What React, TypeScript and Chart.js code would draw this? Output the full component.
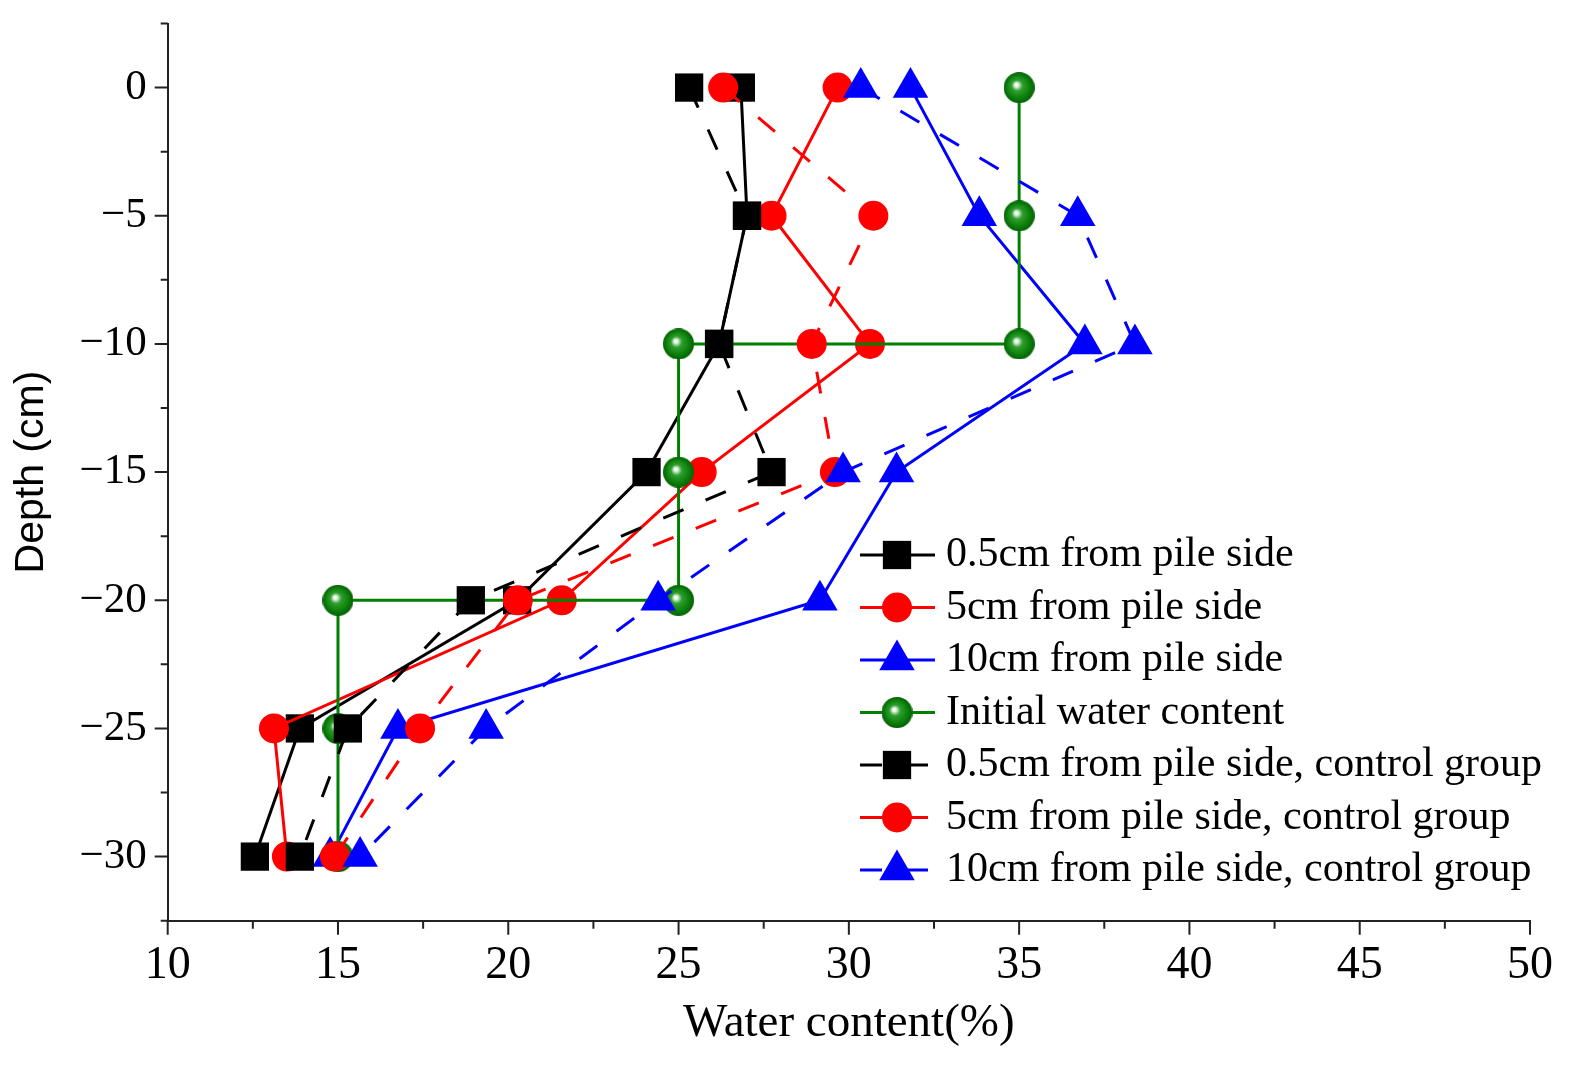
import React, { useEffect, useRef } from "react";
import { Chart, registerables } from "chart.js";

Chart.register(...registerables);

// ---- data ----
const depths = [0, -5, -10, -15, -20, -25, -30];
const pile05 = [26.83, 27.01, 26.19, 24.06, 20.26, 13.88, 12.56];
const pile5 = [29.67, 27.73, 30.62, 25.68, 21.57, 13.12, 13.5];
const pile10 = [31.81, 33.83, 36.93, 31.4, 29.15, 16.76, 14.77];
const initialWater = [35, 35, 35, 25, 25, 25, 15, 15, 15];
const initialDepth = [0, -5, -10, -10, -15, -20, -20, -25, -30];
const pile05Ctrl = [25.31, 27.01, 26.19, 27.73, 18.9, 15.29, 13.88];
const pile5Ctrl = [26.31, 30.72, 28.91, 29.59, 20.28, 17.41, 14.91];
const pile10Ctrl = [30.35, 36.72, 38.4, 29.83, 24.4, 19.35, 15.65];

const seriesLabels = [
  "0.5cm from pile side",
  "5cm from pile side",
  "10cm from pile side",
  "Initial water content",
  "0.5cm from pile side, control group",
  "5cm from pile side, control group",
  "10cm from pile side, control group",
];

const xTickValues = [10, 15, 20, 25, 30, 35, 40, 45, 50];
const xTickLabels = ["10", "15", "20", "25", "30", "35", "40", "45", "50"];
const xMinorValues = [12.5, 17.5, 22.5, 27.5, 32.5, 37.5, 42.5, 47.5];
const yTickValues = [-30, -25, -20, -15, -10, -5, 0];
const yTickLabels = ["\u221230", "\u221225", "\u221220", "\u221215", "\u221210", "\u22125", "0"];
const yMinorValues = [-32.5, -27.5, -22.5, -17.5, -12.5, -7.5, -2.5, 2.5];

const SERIF = '"Liberation Serif", "Times New Roman", serif';
const SANS = '"Liberation Sans", Arial, sans-serif';
const AXIS = "#222";
const DASH = [22, 24];

function makeSphere(d: number): HTMLCanvasElement {
  const c = document.createElement("canvas");
  c.width = d;
  c.height = d;
  const ctx = c.getContext("2d")!;
  const g = ctx.createRadialGradient(d * 0.4, d * 0.4, 0, d * 0.5, d * 0.5, d * 0.5);
  g.addColorStop(0, "#ffffff");
  g.addColorStop(0.12, "#e8f6e8");
  g.addColorStop(0.35, "#2f9f2f");
  g.addColorStop(0.75, "#0b7f0b");
  g.addColorStop(1, "#056005");
  ctx.fillStyle = g;
  ctx.beginPath();
  ctx.arc(d / 2, d / 2, d / 2, 0, Math.PI * 2);
  ctx.fill();
  return c;
}

function zip(xs: number[], ys: number[]) {
  return xs.map((x, i) => ({ x, y: ys[i] }));
}

type Marker = "rect" | "circle" | "triangle" | "sphere";

function drawMarker(ctx: CanvasRenderingContext2D, m: Marker, x: number, y: number, color: string, sphere: HTMLCanvasElement) {
  ctx.save();
  ctx.fillStyle = color;
  ctx.beginPath();
  if (m === "rect") {
    const s = Math.SQRT1_2 * 20;
    ctx.rect(x - s, y - s, 2 * s, 2 * s);
    ctx.fill();
  } else if (m === "circle") {
    ctx.arc(x, y, 15, 0, Math.PI * 2);
    ctx.fill();
  } else if (m === "triangle") {
    const r = 20.5;
    let a = 0;
    ctx.moveTo(x + Math.sin(a) * r, y - Math.cos(a) * r);
    a += (2 * Math.PI) / 3;
    ctx.lineTo(x + Math.sin(a) * r, y - Math.cos(a) * r);
    a += (2 * Math.PI) / 3;
    ctx.lineTo(x + Math.sin(a) * r, y - Math.cos(a) * r);
    ctx.closePath();
    ctx.fill();
  } else {
    ctx.drawImage(sphere, x - sphere.width / 2, y - sphere.height / 2);
  }
  ctx.restore();
}

export default function App() {
  const ref = useRef<HTMLCanvasElement | null>(null);

  useEffect(() => {
    if (!ref.current) return;
    const sphere = makeSphere(31);

    const styles: { color: string; marker: Marker; dashed: boolean }[] = [
      { color: "#000000", marker: "rect", dashed: false },
      { color: "#ff0000", marker: "circle", dashed: false },
      { color: "#0000ff", marker: "triangle", dashed: false },
      { color: "#008000", marker: "sphere", dashed: false },
      { color: "#000000", marker: "rect", dashed: true },
      { color: "#ff0000", marker: "circle", dashed: true },
      { color: "#0000ff", marker: "triangle", dashed: true },
    ];
    const seriesData = [
      zip(pile05, depths),
      zip(pile5, depths),
      zip(pile10, depths),
      zip(initialWater, initialDepth),
      zip(pile05Ctrl, depths),
      zip(pile5Ctrl, depths),
      zip(pile10Ctrl, depths),
    ];

    const datasets = seriesData.map((data, i) => {
      const st = styles[i];
      const ps: any = st.marker === "sphere" ? sphere : st.marker;
      const radius = st.marker === "rect" ? 20 : st.marker === "triangle" ? 20.5 : 15;
      return {
        label: seriesLabels[i],
        data,
        showLine: true,
        borderColor: st.color,
        borderWidth: 3,
        borderDash: st.dashed ? DASH : [],
        backgroundColor: st.color,
        pointStyle: ps,
        pointRadius: radius,
        pointHoverRadius: radius,
        pointBackgroundColor: st.color,
        pointBorderColor: st.color,
        pointBorderWidth: 0,
        fill: false,
        tension: 0,
        clip: false as any,
        order: 6 - i,
      };
    });

    const tickPlugin = {
      id: "minorTicks",
      afterDraw(chart: any) {
        const { ctx, chartArea } = chart;
        const xs = chart.scales.x;
        const ys = chart.scales.y;
        ctx.save();
        ctx.strokeStyle = AXIS;
        ctx.lineWidth = 2;
        ctx.beginPath();
        yTickValues.forEach((v) => {
          const p = ys.getPixelForValue(v);
          ctx.moveTo(chartArea.left - 13, p);
          ctx.lineTo(chartArea.left, p);
        });
        yMinorValues.forEach((v) => {
          const p = ys.getPixelForValue(v);
          ctx.moveTo(chartArea.left - 7, p);
          ctx.lineTo(chartArea.left, p);
        });
        xTickValues.forEach((v) => {
          const p = xs.getPixelForValue(v);
          ctx.moveTo(p, chartArea.bottom);
          ctx.lineTo(p, chartArea.bottom + 14);
        });
        xMinorValues.forEach((v) => {
          const p = xs.getPixelForValue(v);
          ctx.moveTo(p, chartArea.bottom);
          ctx.lineTo(p, chartArea.bottom + 8);
        });
        ctx.stroke();
        ctx.restore();
      },
    };

    const legendPlugin = {
      id: "customLegend",
      afterDraw(chart: any) {
        const { ctx } = chart;
        const x0 = 860;
        const x1 = 935;
        const xm = 897;
        const top = 555;
        const step = 52.5;
        ctx.save();
        seriesLabels.forEach((lab, i) => {
          const st = styles[i];
          const y = top + i * step;
          ctx.save();
          ctx.strokeStyle = st.color;
          ctx.lineWidth = 3;
          ctx.setLineDash(st.dashed ? DASH : []);
          ctx.beginPath();
          ctx.moveTo(x0, y);
          ctx.lineTo(x1, y);
          ctx.stroke();
          ctx.restore();
          drawMarker(ctx, st.marker, xm, y, st.color, sphere);
          ctx.fillStyle = "#000";
          ctx.font = `42px ${SERIF}`;
          ctx.textAlign = "left";
          ctx.textBaseline = "middle";
          ctx.fillText(lab, 946, y);
        });
        ctx.restore();
      },
    };

    const chart = new Chart(ref.current, {
      type: "scatter",
      data: { datasets: datasets as any },
      options: {
        responsive: false,
        animation: false,
        events: [],
        layout: { padding: { left: 0, right: 47, top: 23.5, bottom: 0 } },
        plugins: {
          legend: { display: false },
          tooltip: { enabled: false },
        },
        scales: {
          x: {
            type: "linear",
            min: 10,
            max: 50,
            afterBuildTicks: (s: any) => {
              s.ticks = xTickValues.map((v) => ({ value: v }));
            },
            afterFit: (s: any) => {
              s.height = 147.3;
              s.paddingLeft = 0;
              s.paddingRight = 0;
            },
            ticks: {
              autoSkip: false,
              maxRotation: 0,
              padding: 18,
              color: "#000",
              font: { family: SERIF, size: 46 },
              callback: (_v: any, i: number) => xTickLabels[i],
            },
            grid: { display: false, drawTicks: false },
            border: { display: true, color: AXIS, width: 2 },
            title: {
              display: true,
              text: "Water content(%)",
              color: "#000",
              font: { family: SERIF, size: 47 },
              padding: { top: 0, bottom: 16 },
            },
          },
          y: {
            type: "linear",
            min: -32.5,
            max: 2.5,
            afterBuildTicks: (s: any) => {
              s.ticks = yTickValues.map((v) => ({ value: v }));
            },
            afterFit: (s: any) => {
              s.width = 167.7;
              s.paddingTop = 0;
              s.paddingBottom = 0;
            },
            ticks: {
              autoSkip: false,
              padding: 21,
              color: "#000",
              font: { family: SERIF, size: 43 },
              callback: (_v: any, i: number) => yTickLabels[i],
            },
            grid: { display: false, drawTicks: false },
            border: { display: true, color: AXIS, width: 2 },
            title: {
              display: true,
              text: "Depth (cm)",
              color: "#000",
              font: { family: SANS, size: 41 },
              padding: { top: 7, bottom: 0 },
            },
          },
        },
      } as any,
      plugins: [tickPlugin, legendPlugin],
    });

    return () => {
      chart.destroy();
    };
  }, []);

  return (
    <div style={{ position: "absolute", left: 0, top: 0, width: 1577, height: 1068, background: "#fff" }}>
      <canvas ref={ref} width={1577} height={1068} style={{ display: "block", width: 1577, height: 1068 }} />
    </div>
  );
}
